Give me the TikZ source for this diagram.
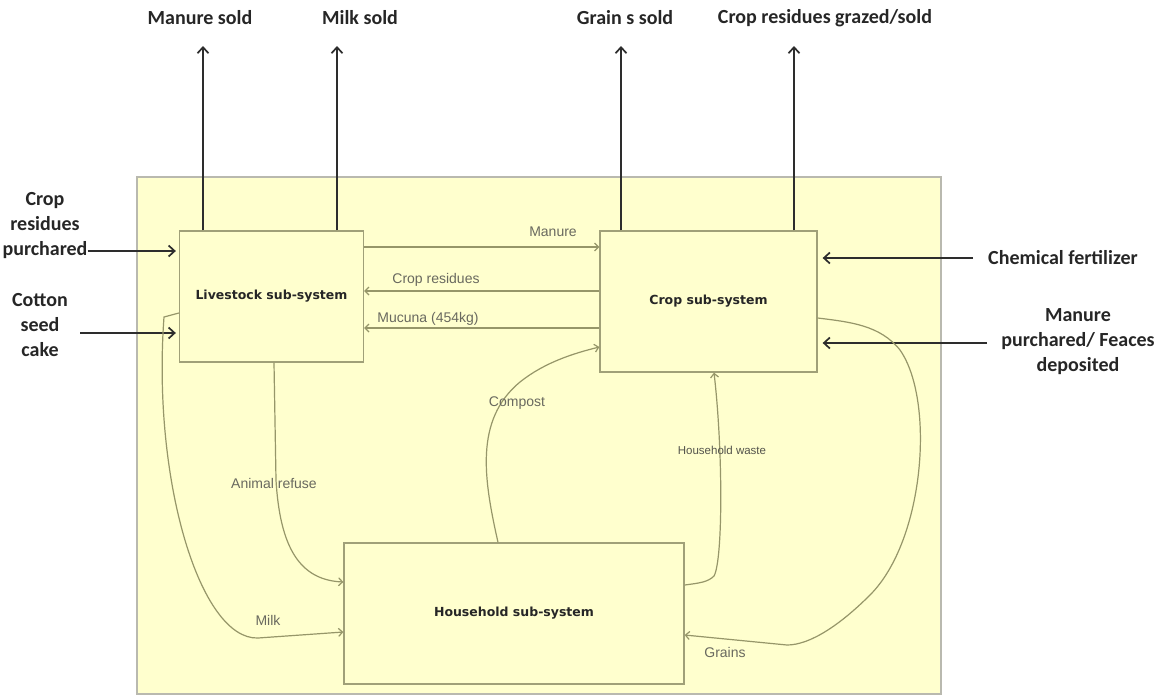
\documentclass[tikz,border=0pt]{standalone}
\usepackage{fontspec}
\usetikzlibrary{arrows.meta}
\newfontfamily\lblfont{Carlito}
\newfontfamily\boxfont{DejaVu Sans}
\newfontfamily\edgefont{Liberation Sans}
\definecolor{bgyellow}{RGB}{255,255,206}
\definecolor{framegray}{RGB}{185,185,175}
\definecolor{linecol}{RGB}{150,150,105}
\definecolor{boxcol}{RGB}{160,160,120}
\definecolor{edgetxt}{RGB}{105,105,95}
\definecolor{outcol}{RGB}{45,45,45}
\tikzset{
  sysframe/.style={draw=framegray, line width=1.6pt, fill=bgyellow, inner sep=0pt},
  subbox/.style={draw=boxcol, line width=1.3pt, fill=bgyellow, inner sep=0pt,
    font=\boxfont\bfseries\fontsize{12.5}{15}\selectfont, text=black!85},
  extlbl/.style={font=\lblfont\bfseries\fontsize{20}{25}\selectfont, text=black!85, inner sep=0pt, align=center},
  edgelbl/.style={font=\edgefont\fontsize{14}{16}\selectfont, text=edgetxt, inner sep=0pt},
  smalllbl/.style={font=\edgefont\fontsize{11.5}{13}\selectfont, text=edgetxt!80!black, inner sep=0pt},
  flow/.style={draw=linecol, line width=1.2pt, -{Straight Barb[length=4pt,width=8pt]}},
  outarr/.style={draw=outcol, line width=1.7pt, -{Straight Barb[length=6pt,width=11pt]}},
}
\begin{document}
\begin{tikzpicture}[x=1pt,y=-1pt]
\useasboundingbox (0,0) rectangle (1165,697);
\node[sysframe, minimum width=804pt, minimum height=517pt] (sys) at (539,435.5) {};

\node[subbox, minimum width=184pt, minimum height=131pt] (liv) at (271.5,296.5) {Livestock sub-system};
\node[subbox, minimum width=217pt, minimum height=141pt] (crop) at (708.5,301.5) {Crop sub-system};
\node[subbox, minimum width=340pt, minimum height=141pt] (hh) at (514,613.5) {Household sub-system};

% top outputs
\node[extlbl] (ms) at (200,18) {Manure sold};
\node[extlbl] (mks) at (360,18) {Milk sold};
\node[extlbl] (gs) at (625,18) {Grain s sold};
\node[extlbl] (crs) at (825,18) {Crop residues grazed/sold};
\coordinate (msend) at (203,46);
\coordinate (mksend) at (337,46);
\coordinate (gsend) at (621,46);
\coordinate (crsend) at (794,46);
\draw[outarr] (liv.north -| msend) -- (msend);
\draw[outarr] (liv.north -| mksend) -- (mksend);
\draw[outarr] (crop.north -| gsend) -- (gsend);
\draw[outarr] (crop.north -| crsend) -- (crsend);

% left inputs
\node[extlbl] (crp) at (45,226) {Crop\\residues\\purchared};
\node[extlbl] (csc) at (40,325) {Cotton\\seed\\cake};
\coordinate (cscstart) at (80,333);
\draw[outarr, shorten >=3pt] (crp.east |- 0,251) -- (liv.west |- 0,251);
\draw[outarr, shorten >=3pt] (cscstart) -- (liv.west |- cscstart);

% right inputs
\node[extlbl] (chem) at (1063,258) {Chemical fertilizer};
\node[extlbl] (mpf) at (1078,342) {Manure\\purchared/ Feaces\\deposited};
\coordinate (chemstart) at (973,258);
\coordinate (mpfstart) at (987,343);
\draw[outarr, shorten >=5pt] (chemstart) -- (crop.east |- chemstart);
\draw[outarr, shorten >=5pt] (mpfstart) -- (crop.east |- mpfstart);

% internal flows
\draw[flow] (liv.east |- 0,247) -- (crop.west |- 0,247);
\node[edgelbl] (lman) at (553,232) {Manure};
\draw[flow] (crop.west |- 0,291) -- (liv.east |- 0,291);
\node[edgelbl] (lcr) at (436,280) {Crop residues};
\draw[flow] (crop.west |- 0,328) -- (liv.east |- 0,328);
\node[edgelbl] (lmuc) at (428,319) {Mucuna (454kg)};

\draw[flow] (hh.north -| 498,0) .. controls (484,480) and (474,420) .. (520,382)
  .. controls (545,362) and (575,353) .. (crop.west |- 0,347);
\node[edgelbl] (lcomp) at (517,403) {Compost};

\draw[flow] (liv.south -| 274,0) -- (276,480) .. controls (280,548) and (300,580) .. (hh.west |- 0,582);
\node[edgelbl] (lanim) at (274,483) {Animal refuse};

\draw[flow] (liv.west |- 0,313) -- (164,317) .. controls (152,480) and (200,640) .. (258,638) -- (hh.west |- 0,632);
\node[edgelbl] (lmilk) at (268,620) {Milk};

\draw[flow] (hh.east |- 0,585) .. controls (700,583) and (708,582) .. (714,576)
  .. controls (723,560) and (723,450) .. (crop.south -| 714,0);
\node[smalllbl] (lhw) at (722,450) {Household waste};

\draw[flow] (crop.east |- 0,318) .. controls (850,322) and (880,325) .. (900,350)
  .. controls (935,400) and (925,540) .. (870,595)
  .. controls (840,625) and (810,645) .. (787,645) -- (hh.east |- 0,635);
\node[edgelbl] (lgr) at (725,652) {Grains};
\end{tikzpicture}
\end{document}
